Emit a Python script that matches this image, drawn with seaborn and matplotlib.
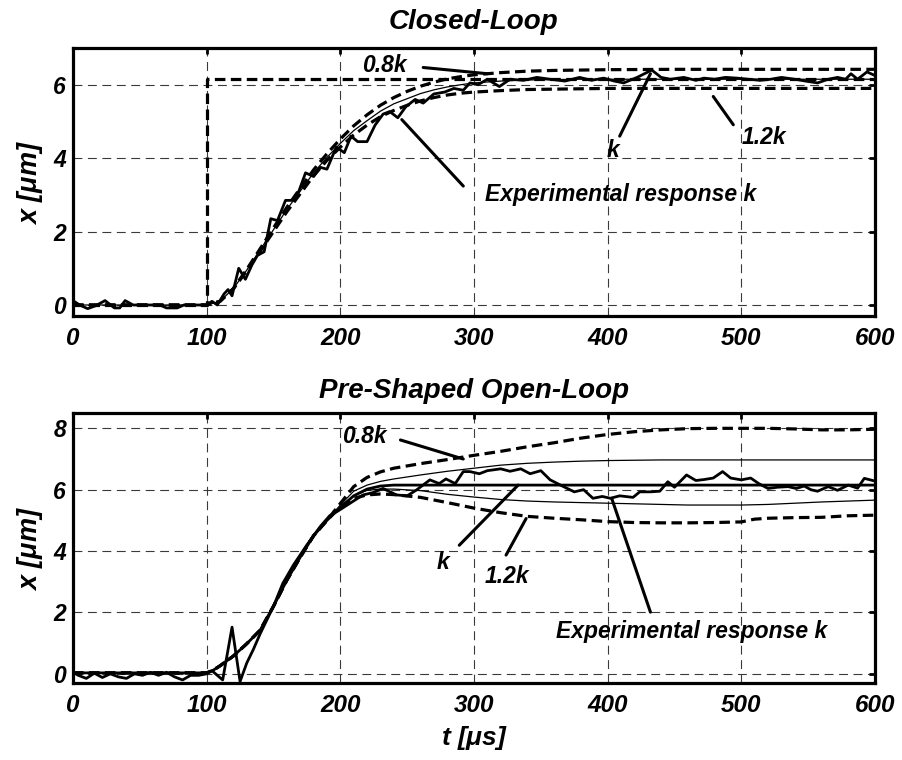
import numpy as np
import pandas as pd
import matplotlib
matplotlib.use("Agg")
import matplotlib.pyplot as plt
import seaborn as sns

# ---------------- Closed-loop panel data ----------------
t_ref_cl = [0, 100, 100, 600]
x_ref_cl = [0.0, 0.0, 6.15, 6.15]

t_sim_cl = [0, 100, 110, 120, 130, 140, 150, 160, 170, 180, 190, 200, 210, 220, 230,
            240, 250, 260, 270, 280, 290, 300, 320, 340, 360, 380, 400, 450, 500, 550, 600]
k_cl = [0.0, 0.0, 0.1, 0.45, 0.95, 1.5, 2.05, 2.6, 3.1, 3.6, 4.02, 4.4, 4.75, 5.02, 5.28,
        5.48, 5.62, 5.76, 5.86, 5.94, 6.0, 6.05, 6.1, 6.13, 6.14, 6.15, 6.15, 6.15, 6.15, 6.15, 6.15]
k08_cl = [0.0, 0.0, 0.1, 0.45, 0.97, 1.53, 2.1, 2.66, 3.18, 3.68, 4.12, 4.52, 4.88, 5.18, 5.44,
          5.65, 5.82, 5.96, 6.07, 6.16, 6.22, 6.27, 6.33, 6.37, 6.39, 6.4, 6.41, 6.42, 6.42, 6.42, 6.42]
k12_cl = [0.0, 0.0, 0.1, 0.44, 0.93, 1.46, 2.0, 2.54, 3.03, 3.52, 3.94, 4.3, 4.63, 4.9, 5.13,
          5.3, 5.44, 5.56, 5.65, 5.72, 5.77, 5.8, 5.84, 5.87, 5.88, 5.89, 5.9, 5.9, 5.9, 5.9, 5.9]

t_exp_cl = [0, 5, 11, 17, 24, 31, 35, 39, 45, 65,
            70, 78, 83, 100, 104, 108, 113, 116, 119, 124,
            129, 134, 138, 143, 148, 153, 159, 164, 169, 174,
            180, 185, 190, 197, 203, 208, 213, 220, 226, 232,
            237, 243, 249, 256, 262, 270, 278, 285, 292, 297,
            303, 310, 319, 327, 337, 347, 357, 368, 379, 388,
            397, 405, 412, 422, 433, 440, 447, 457, 466, 472,
            480, 488, 497, 505, 514, 522, 530, 540, 548, 557,
            565, 572, 578, 582, 587, 594, 600]
x_exp_cl = [0.12, 0.0, -0.1, -0.02, 0.12, -0.08, -0.08, 0.12, 0.0, 0.0,
            -0.08, -0.08, 0.0, 0.0, 0.1, 0.0, 0.3, 0.42, 0.25, 1.0,
            0.7, 1.1, 1.35, 1.45, 2.35, 2.3, 2.85, 2.85, 3.1, 3.6,
            3.5, 3.75, 3.7, 4.3, 4.15, 4.6, 4.45, 4.45, 4.9, 5.2,
            5.27, 5.1, 5.4, 5.6, 5.5, 5.75, 5.8, 5.9, 5.85, 6.05,
            6.0, 6.15, 5.95, 6.15, 6.12, 6.2, 6.15, 6.1, 6.2, 6.12,
            6.18, 6.1, 6.05, 6.2, 6.4, 6.2, 6.15, 6.2, 6.12, 6.18,
            6.15, 6.2, 6.18, 6.15, 6.12, 6.15, 6.2, 6.15, 6.1, 6.05,
            6.15, 6.2, 6.15, 6.3, 6.15, 6.35, 6.25]

# ---------------- Pre-shaped open-loop panel data ----------------
t_sim_ol = [0, 100, 105, 110, 115, 120, 130, 140, 150, 160, 170, 180, 190,
            200, 210, 220, 230, 240, 260, 280, 300, 320, 340, 360, 380, 400,
            420, 440, 460, 480, 500, 510, 520, 540, 560, 580, 600]
k_ol = [0.03, 0.03, 0.12, 0.26, 0.42, 0.58, 0.98, 1.42, 2.2, 3.05, 3.8, 4.5, 5.0,
        5.42, 5.8, 6.02, 6.12, 6.15, 6.15, 6.15, 6.15, 6.15, 6.15, 6.15, 6.15, 6.15,
        6.15, 6.15, 6.15, 6.15, 6.15, 6.15, 6.15, 6.15, 6.15, 6.15, 6.15]
k08_ol = [0.03, 0.03, 0.12, 0.26, 0.42, 0.58, 0.98, 1.42, 2.2, 3.05, 3.8, 4.5, 5.0,
          5.55, 6.1, 6.4, 6.58, 6.7, 6.85, 6.98, 7.12, 7.25, 7.4, 7.53, 7.68, 7.8,
          7.89, 7.95, 7.99, 8.0, 8.0, 8.0, 8.0, 7.98, 7.95, 7.95, 7.97]
k09_ol = [0.03, 0.03, 0.12, 0.26, 0.42, 0.58, 0.98, 1.42, 2.2, 3.05, 3.8, 4.5, 5.0,
          5.5, 5.95, 6.15, 6.27, 6.35, 6.48, 6.6, 6.7, 6.8, 6.86, 6.9, 6.93, 6.95,
          6.96, 6.97, 6.97, 6.97, 6.97, 6.97, 6.97, 6.97, 6.97, 6.97, 6.97]
k11_ol = [0.03, 0.03, 0.12, 0.26, 0.42, 0.58, 0.98, 1.42, 2.2, 3.05, 3.8, 4.5, 5.0,
          5.45, 5.8, 5.98, 6.02, 6.02, 5.97, 5.85, 5.76, 5.68, 5.63, 5.6, 5.58, 5.56,
          5.54, 5.52, 5.5, 5.5, 5.5, 5.51, 5.52, 5.56, 5.6, 5.63, 5.66]
k12_ol = [0.03, 0.03, 0.12, 0.26, 0.42, 0.58, 0.98, 1.42, 2.2, 3.05, 3.8, 4.5, 5.0,
          5.45, 5.72, 5.83, 5.86, 5.84, 5.75, 5.58, 5.4, 5.25, 5.13, 5.07, 5.02, 4.96,
          4.93, 4.92, 4.92, 4.93, 4.95, 5.04, 5.07, 5.09, 5.1, 5.15, 5.17]

t_exp_ol = [0, 4, 10, 16, 22, 28, 34, 40, 46, 52,
            58, 64, 70, 76, 82, 88, 94, 100, 104, 108,
            112, 119, 125, 130, 135, 140, 145, 150, 157, 165,
            175, 185, 192, 198, 207, 217, 224, 232, 242, 250,
            257, 267, 274, 279, 286, 292, 297, 304, 310, 320,
            327, 335, 342, 350, 357, 367, 375, 382, 389, 396,
            402, 409, 419, 424, 432, 439, 445, 450, 459, 466,
            472, 479, 486, 492, 500, 507, 513, 520, 527, 535,
            541, 547, 552, 557, 565, 572, 580, 587, 592, 600]
x_exp_ol = [0.05, -0.05, -0.15, 0.02, -0.12, 0.0, -0.1, -0.15, 0.0, -0.05,
            0.05, -0.05, 0.05, -0.1, -0.2, -0.05, -0.05, 0.0, 0.1, -0.05,
            -0.2, 1.52, -0.25, 0.35, 0.8, 1.3, 1.75, 2.2, 2.95, 3.55,
            4.2, 4.8, 5.15, 5.3, 5.55, 5.83, 5.9, 6.04, 5.83, 5.8,
            5.99, 6.32, 6.2, 6.35, 6.2, 6.59, 6.59, 6.52, 6.62, 6.68,
            6.6, 6.68, 6.52, 6.62, 6.32, 6.1, 5.93, 6.0, 5.72, 5.78,
            5.72, 5.8, 5.75, 5.93, 5.93, 5.95, 6.26, 6.08, 6.48, 6.3,
            6.33, 6.38, 6.59, 6.38, 6.32, 6.38, 6.2, 6.04, 6.08, 6.1,
            6.04, 6.12, 6.0, 5.95, 6.1, 5.98, 6.15, 6.05, 6.37, 6.28]

x_ticks = [0, 100, 200, 300, 400, 500, 600]
y_ticks_cl = [0, 2, 4, 6]
y_ticks_ol = [0, 2, 4, 6, 8]

# ---------------- Style ----------------
sns.set_theme(style="white")
BI = dict(fontweight="bold", fontstyle="italic")
WIDE = ["Liberation Sans", "DejaVu Sans"]
NARROW = ["Liberation Sans Narrow", "Liberation Sans", "DejaVu Sans"]
plt.rcParams.update({
    "font.family": WIDE,
    "text.color": "black",
    "axes.labelcolor": "black",
    "axes.titlecolor": "black",
    "xtick.color": "black",
    "ytick.color": "black",
    "mathtext.fontset": "custom",
    "mathtext.it": "Liberation Sans:bold:italic",
})

fig = plt.figure(figsize=(9.03, 7.6), dpi=100)
ax1 = fig.add_axes([0.0808, 0.5842, 0.8882, 0.3526])
ax2 = fig.add_axes([0.0808, 0.1013, 0.8882, 0.3553])


def draw(ax, t, y, style, lw):
    df = pd.DataFrame({"t": t, "x": y})
    sns.lineplot(data=df, x="t", y="x", ax=ax, color="black", linewidth=lw,
                 estimator=None, sort=False, legend=False)
    line = ax.get_lines()[-1]
    if style == "dash":
        line.set_linestyle((0, (3.3, 1.7)))
    line.set_solid_capstyle("butt")
    line.set_dash_capstyle("butt")


DASH_LW = 2.3
THIN_LW = 0.9
EXP_LW = 2.0

# Closed-loop
draw(ax1, t_ref_cl, x_ref_cl, "dash", DASH_LW)
draw(ax1, t_sim_cl, k08_cl, "dash", DASH_LW)
draw(ax1, t_sim_cl, k12_cl, "dash", DASH_LW)
draw(ax1, t_sim_cl, k_cl, "solid", THIN_LW)
draw(ax1, t_exp_cl, x_exp_cl, "solid", EXP_LW)

# Pre-shaped open-loop
draw(ax2, t_sim_ol, k08_ol, "dash", DASH_LW)
draw(ax2, t_sim_ol, k12_ol, "dash", DASH_LW)
draw(ax2, t_sim_ol, k09_ol, "solid", THIN_LW)
draw(ax2, t_sim_ol, k11_ol, "solid", THIN_LW)
draw(ax2, t_sim_ol, k_ol, "solid", EXP_LW)
draw(ax2, t_exp_ol, x_exp_ol, "solid", EXP_LW)


def frame(ax, ylim, yticks, title, title_pad):
    ax.set_xlim(0, 600)
    ax.set_ylim(*ylim)
    ax.set_xticks(x_ticks)
    ax.set_yticks(yticks)
    ax.grid(True, linestyle=(0, (8, 5)), color="#3a3a3a", linewidth=0.8)
    for s in ax.spines.values():
        s.set_linewidth(2.3)
        s.set_color("black")
    ax.tick_params(direction="in", length=4, width=2, top=True, right=True,
                   colors="black", labelsize=16.5)
    ax.tick_params(axis="x", pad=8)
    ax.tick_params(axis="y", pad=5)
    for lab in ax.get_xticklabels():
        lab.set_family(NARROW)
        lab.set_fontsize(17.5)
        lab.set_fontweight("bold")
        lab.set_fontstyle("italic")
    for lab in ax.get_yticklabels():
        lab.set_fontweight("bold")
        lab.set_fontstyle("italic")
    ax.set_title(title, family=NARROW, fontsize=20, pad=title_pad, color="black", **BI)
    ax.set_ylabel(r"x [$\mu$m]", fontsize=19.5, labelpad=6, color="black", **BI)
    ax.set_xlabel("")


frame(ax1, (-0.3, 7.0), y_ticks_cl, "Closed-Loop", 14)
frame(ax2, (-0.3, 8.5), y_ticks_ol, "Pre-Shaped Open-Loop", 11)
ax2.set_xlabel(r"t [$\mu$s]", family=NARROW, fontsize=19, labelpad=5, color="black", **BI)

ANN = dict(fontsize=16.5, color="black", **BI)
LEAD = dict(arrowstyle="-", lw=2.2, color="black", shrinkA=0, shrinkB=0)


def note(ax, text, txy, start, end, ha="center"):
    ax.text(txy[0], txy[1], text, ha=ha, va="center", **ANN)
    ax.annotate("", xy=end, xytext=start, arrowprops=LEAD)


note(ax1, "0.8k", (233, 6.52), (262, 6.47), (310, 6.3))
note(ax1, "k", (404, 4.2), (409, 4.6), (432, 6.3))
note(ax1, "1.2k", (517, 4.55), (494, 4.91), (479, 5.68))
note(ax1, "Experimental response k", (308, 3.0), (292, 3.24), (246, 5.05), ha="left")

note(ax2, "0.8k", (218, 7.72), (245, 7.62), (292, 7.0))
note(ax2, "k", (277, 3.64), (289, 4.19), (333, 6.15))
note(ax2, "1.2k", (325, 3.16), (324, 3.87), (339, 5.06))
note(ax2, "Experimental response k", (463, 1.38), (432, 2.01), (403, 5.72))

fig.savefig("out.png", dpi=100, facecolor="white")
